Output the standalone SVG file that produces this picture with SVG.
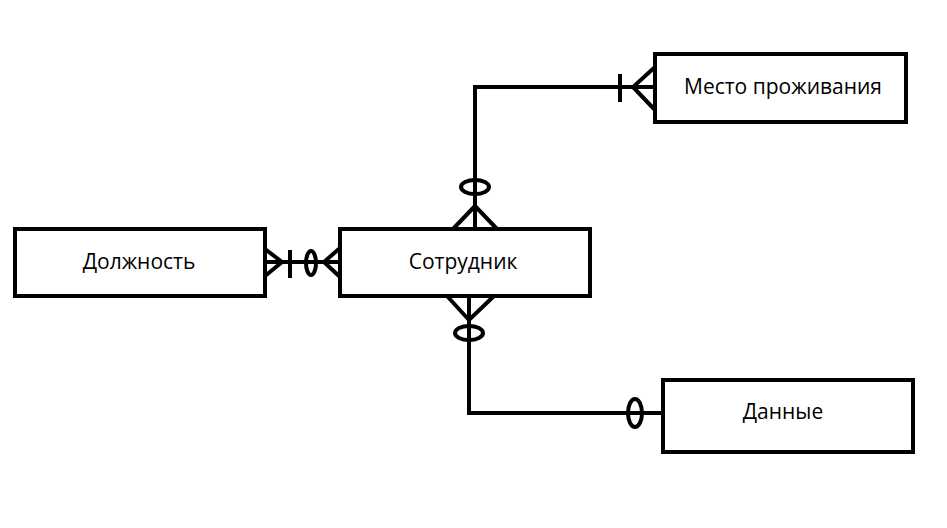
<svg xmlns="http://www.w3.org/2000/svg" width="947" height="528" viewBox="0 0 947 528">
<style>
.box{fill:#fff;stroke:#000;stroke-width:4}
.ln{fill:none;stroke:#000;stroke-width:4}
.lbl{font-family:"Open Sans","Noto Sans",sans-serif;font-size:21px;fill:#000;text-anchor:middle;dominant-baseline:central}
</style>
<rect width="947" height="528" fill="#fff"/>
<g id="connectors">
<!-- Должность - Сотрудник -->
<path class="ln" d="M265 262 H340"/>
<path class="ln" d="M265 249 L282 262 L265 276"/>
<path class="ln" d="M290 250 V278"/>
<ellipse class="ln" cx="311" cy="263" rx="5" ry="12"/>
<path class="ln" d="M340 248 L324 262 L340 277"/>
<!-- Сотрудник - Место проживания -->
<path class="ln" d="M475 229 V87 H655"/>
<ellipse class="ln" cx="475" cy="187" rx="14" ry="7"/>
<path class="ln" d="M453 229 L475 206 L497 229"/>
<path class="ln" d="M620 74 V102"/>
<path class="ln" d="M655 67 L633 87 L655 110"/>
<!-- Сотрудник - Данные -->
<path class="ln" d="M469 296 V413 H663"/>
<path class="ln" d="M447 296 L469 320 L494 296"/>
<ellipse class="ln" cx="469" cy="333" rx="14" ry="7"/>
<ellipse class="ln" cx="635" cy="413" rx="7" ry="14"/>
</g>
<g id="node-dolzhnost">
<rect class="box" x="15" y="229" width="250" height="67"/>
<text class="lbl" x="139" y="261">Должность</text>
</g>
<g id="node-sotrudnik">
<rect class="box" x="340" y="229" width="250" height="67"/>
<text class="lbl" x="463" y="261">Сотрудник</text>
</g>
<g id="node-mesto">
<rect class="box" x="655" y="54" width="251" height="68"/>
<text class="lbl" x="783" y="86">Место проживания</text>
</g>
<g id="node-dannye">
<rect class="box" x="663" y="380" width="250" height="72"/>
<text class="lbl" x="783" y="411">Данные</text>
</g>
</svg>
